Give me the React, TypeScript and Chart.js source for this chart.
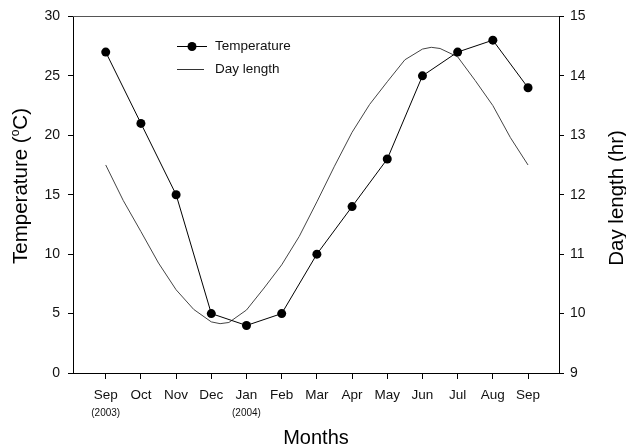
import React, { useEffect, useRef } from "react";
import { Chart, registerables } from "chart.js";

Chart.register(...registerables);

// Month axis (Sep 2003 – Sep 2004)
const monthLabels = ["Sep", "Oct", "Nov", "Dec", "Jan", "Feb", "Mar", "Apr", "May", "Jun", "Jul", "Aug", "Sep"];
const yearNotes = ["(2003)", "", "", "", "(2004)", "", "", "", "", "", "", "", ""];

// Monthly mean temperature (°C)
const temperature = [27, 21, 15, 5, 4, 5, 10, 14, 18, 25, 27, 28, 24];

// Day length (hr), sampled twice a month; positions are in month units from Sep 2003
const dayLengthPos = [0, 0.5, 1, 1.5, 2, 2.5, 3, 3.25, 3.5, 4, 4.5, 5, 5.5, 6, 6.5, 7, 7.5, 8, 8.5, 9, 9.25, 9.5, 10, 10.5, 11, 11.5, 12];
const dayLengthHours = [12.5, 11.9, 11.38, 10.85, 10.4, 10.07, 9.86, 9.83, 9.85, 10.06, 10.43, 10.82, 11.3, 11.88, 12.48, 13.05, 13.52, 13.9, 14.27, 14.45, 14.48, 14.46, 14.32, 13.92, 13.5, 12.96, 12.5];

const tempTicks = { min: 0, max: 30, step: 5 };
const dayTicks = { min: 9, max: 15, step: 1 };

const FONT = "Arial, 'Liberation Sans', sans-serif";

function drawVerticalText(ctx: CanvasRenderingContext2D, x: number, y: number, parts: { text: string; size: number; dy: number }[]) {
  ctx.save();
  ctx.translate(x, y);
  ctx.rotate(-Math.PI / 2);
  ctx.textBaseline = "alphabetic";
  ctx.textAlign = "left";
  let total = 0;
  const widths = parts.map((p) => {
    ctx.font = `${p.size}px ${FONT}`;
    const w = ctx.measureText(p.text).width;
    total += w;
    return w;
  });
  let cx = -total / 2;
  parts.forEach((p, i) => {
    ctx.font = `${p.size}px ${FONT}`;
    ctx.fillText(p.text, cx, 7 + p.dy);
    cx += widths[i];
  });
  ctx.restore();
}

const decorations = {
  id: "decorations",
  afterDraw(chart: any) {
    const ctx: CanvasRenderingContext2D = chart.ctx;
    const { left, right, top, bottom } = chart.chartArea;
    const xs = chart.scales.x;
    ctx.save();

    // top frame line
    ctx.strokeStyle = "#555";
    ctx.lineWidth = 1;
    ctx.beginPath();
    ctx.moveTo(left, Math.round(top) + 0.5);
    ctx.lineTo(right, Math.round(top) + 0.5);
    ctx.stroke();

    // year notes under month labels
    ctx.fillStyle = "#111";
    ctx.font = `10px ${FONT}`;
    ctx.textAlign = "center";
    ctx.textBaseline = "middle";
    yearNotes.forEach((n, i) => {
      if (n) ctx.fillText(n, xs.getPixelForValue(i), bottom + 40);
    });

    // axis titles
    ctx.fillStyle = "#000";
    ctx.font = `20px ${FONT}`;
    ctx.textAlign = "center";
    ctx.textBaseline = "middle";
    ctx.fillText("Months", (left + right) / 2, 438);
    drawVerticalText(ctx, 20, 186, [
      { text: "Temperature (", size: 20.5, dy: 0 },
      { text: "o", size: 12, dy: -8 },
      { text: "C)", size: 20.5, dy: 0 },
    ]);
    drawVerticalText(ctx, 616, 198, [{ text: "Day length (hr)", size: 20.5, dy: 0 }]);

    // legend
    const lx0 = 177, lx1 = 207, ltx = 215;
    ctx.strokeStyle = "#000";
    ctx.beginPath();
    ctx.moveTo(lx0, 46.5);
    ctx.lineTo(lx1, 46.5);
    ctx.stroke();
    ctx.fillStyle = "#000";
    ctx.beginPath();
    ctx.arc(192, 46.5, 4.5, 0, Math.PI * 2);
    ctx.fill();
    ctx.strokeStyle = "#333";
    ctx.beginPath();
    ctx.moveTo(lx0, 69.5);
    ctx.lineTo(204, 69.5);
    ctx.stroke();
    ctx.fillStyle = "#111";
    ctx.font = `13.5px ${FONT}`;
    ctx.textAlign = "left";
    ctx.fillText("Temperature", ltx, 46);
    ctx.fillText("Day length", ltx, 69);

    ctx.restore();
  },
};

export default function App() {
  const ref = useRef<HTMLCanvasElement>(null);

  useEffect(() => {
    if (!ref.current) return;
    const chart = new Chart(ref.current, {
      type: "line",
      data: {
        datasets: [
          {
            label: "Temperature",
            data: temperature.map((t, i) => ({ x: i, y: t })),
            yAxisID: "y",
            borderColor: "#000",
            borderWidth: 1,
            pointRadius: 4.5,
            pointBackgroundColor: "#000",
            pointBorderColor: "#000",
            pointBorderWidth: 0,
            tension: 0,
          },
          {
            label: "Day length",
            data: dayLengthPos.map((p, i) => ({ x: p, y: dayLengthHours[i] })),
            yAxisID: "y2",
            borderColor: "#444",
            borderWidth: 1,
            pointRadius: 0,
            tension: 0,
          },
        ],
      },
      options: {
        responsive: false,
        animation: false,
        events: [],
        layout: { padding: { top: 15, left: 0, right: 0, bottom: 0 } },
        plugins: { legend: { display: false }, tooltip: { enabled: false } },
        scales: {
          x: {
            type: "linear",
            min: -0.93,
            max: 12.88,
            afterBuildTicks: (s: any) => {
              s.ticks = monthLabels.map((_, i) => ({ value: i }));
            },
            afterFit: (s: any) => {
              s.height = 75;
            },
            ticks: {
              autoSkip: false,
              maxRotation: 0,
              padding: 8,
              color: "#111",
              font: { family: FONT, size: 13.5 },
              callback: (v: any) => monthLabels[v] ?? "",
            },
            grid: { drawOnChartArea: false, drawTicks: true, tickLength: 6, color: "#000" },
            border: { display: true, color: "#000", width: 1 },
          },
          y: {
            position: "left",
            min: tempTicks.min,
            max: tempTicks.max,
            afterFit: (s: any) => {
              s.width = 73;
            },
            ticks: { stepSize: tempTicks.step, padding: 8, color: "#111", font: { family: FONT, size: 14 } },
            grid: { drawOnChartArea: false, drawTicks: true, tickLength: 5, color: "#000" },
            border: { display: true, color: "#000", width: 1 },
          },
          y2: {
            position: "right",
            min: dayTicks.min,
            max: dayTicks.max,
            afterFit: (s: any) => {
              s.width = 67;
            },
            ticks: { stepSize: dayTicks.step, padding: 6, color: "#111", font: { family: FONT, size: 14 } },
            grid: { drawOnChartArea: false, drawTicks: true, tickLength: 5, color: "#000" },
            border: { display: true, color: "#000", width: 1 },
          },
        },
      },
      plugins: [decorations],
    });
    return () => chart.destroy();
  }, []);

  return (
    <div style={{ position: "absolute", left: 0, top: 0, width: 626, height: 448, background: "#fff" }}>
      <canvas ref={ref} width={626} height={448} />
    </div>
  );
}
